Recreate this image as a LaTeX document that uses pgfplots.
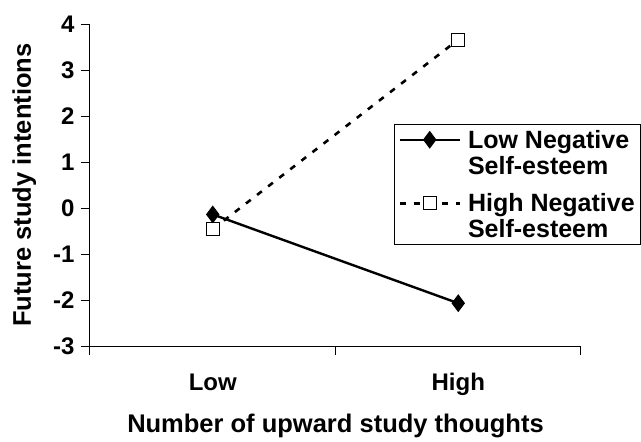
\documentclass[border=0pt]{standalone}
\usepackage{fontspec}
\setmainfont{Liberation Sans}
\usepackage{pgfplots}
\pgfplotsset{compat=1.18}
\begin{document}
\begin{tikzpicture}[x=1pt,y=1pt]
% page frame: axis box sits at (0,0)--(491,322)
\useasboundingbox (-90pt,-96pt) rectangle (551pt,346pt);
\begin{axis}[
  scale only axis, width=491pt, height=322pt,
  xmin=0, xmax=2, ymin=-3, ymax=4,
  axis lines*=left, axis line style={line width=1pt},
  tick align=outside, major tick length=9pt,
  tick style={line width=1pt, black},
  xtick={0,1,2}, xticklabels={},
  extra x ticks={0.5,1.5}, extra x tick labels={Low,High},
  extra x tick style={major tick length=0pt, xticklabel style={yshift=-24pt}},
  ytick={-3,-2,...,4},
  yticklabels={-3,-2,-1,0,1,2,3,4},
  yticklabel style={xshift=-3pt},
  ticklabel style={font=\fontsize{24}{27}\selectfont\bfseries},
  label style={font=\fontsize{25.5}{28}\selectfont\bfseries},
  xlabel={Number of upward study thoughts},
  ylabel={Future study intentions},
  xlabel style={yshift=-2pt},
  ylabel style={yshift=10pt},
  clip=false,
  legend style={at={(0.619,0.688)}, anchor=north west, draw=black, line width=1pt,
    font=\fontsize{25}{26}\selectfont\bfseries, cells={anchor=west, align=left},
    inner xsep=4pt, inner ysep=3pt, row sep=14pt, column sep=5pt},
  legend image code/.code={\draw[mark repeat=2, mark phase=2, yshift=13pt, #1]
    plot coordinates {(0pt,0pt) (30pt,0pt) (60pt,0pt)};},
]
\addplot[black, line width=2.4pt, mark=diamond*, mark size=7pt, mark options={solid, fill=black}]
  coordinates {(0.5,-0.14) (1.5,-2.07)};
\addlegendentry{Low Negative\\Self-esteem}
\addplot[black, line width=2.6pt, dash pattern=on 6pt off 8pt, mark=square*, mark size=6.5pt,
  mark options={solid, fill=white, line width=1pt}]
  coordinates {(0.5,-0.46) (1.5,3.66)};
\addlegendentry{High Negative\\Self-esteem}
\end{axis}
\end{tikzpicture}
\end{document}
